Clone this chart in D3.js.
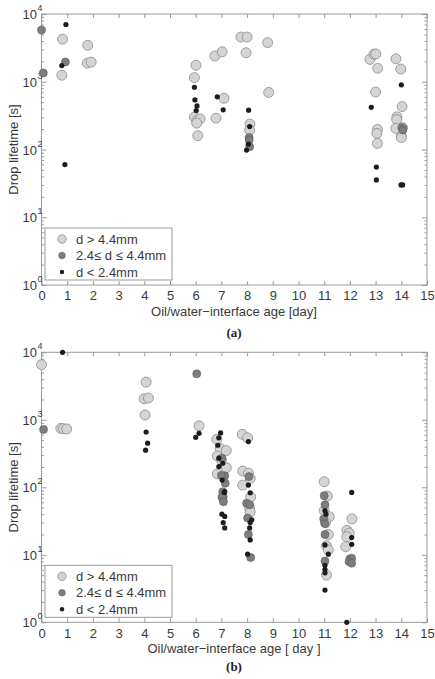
<!DOCTYPE html>
<html>
<head>
<meta charset="utf-8">
<script src="https://cdn.jsdelivr.net/npm/d3@7"></script>
<style>
  html, body { margin: 0; padding: 0; background: #fff; }
  svg { display: block; font-family: "Liberation Sans", Arial, sans-serif; }
</style>
</head>
<body>
<svg id="chart" width="435" height="679"></svg>
<script>
// ---------- DATA ----------
const xTicks = d3.range(0, 16);           // 0 .. 15 days
const yDecades = [1, 10, 100, 1000, 10000];
const seriesNames = ["d > 4.4mm", "2.4\u2264 d \u2264 4.4mm", "d < 2.4mm"];

// Panel (a): [day, lifetime s]
const aLarge = [
  [0.79,1250],[0.82,4250],[1.80,3450],[1.78,1880],[1.93,1950],
  [6.01,1750],[5.95,1150],[5.95,300],[6.05,265],[6.17,283],[6.04,245],[6.08,160],
  [6.79,290],[6.75,2400],[7.03,2770],[7.10,570],
  [7.76,4570],[8.00,4570],[7.96,2680],[8.80,3780],[8.84,695],
  [8.11,238],[8.10,194],
  [12.78,2140],[12.94,2550],[13.01,2570],[13.08,1580],[13.00,705],
  [13.07,198],[13.05,173],[13.07,123],
  [13.79,2180],[13.98,1540],[14.03,430],[13.83,303],[13.82,277],[13.79,205],
  [14.05,210],[14.00,158],[14.00,150]
];
const aMedium = [
  [0.00,5800],[0.07,1350],[0.93,1960],
  [8.08,150],[8.08,138],[8.10,110],
  [14.04,210],[14.06,194]
];
const aSmall = [
  [0.95,7000],[0.79,1730],[0.91,60],
  [5.95,830],[5.97,540],[6.05,440],[6.02,375],
  [6.84,600],[7.07,385],
  [8.06,380],[8.10,218],[8.05,120],[7.98,98],
  [12.83,420],[13.03,55],[13.03,35.6],
  [14.00,900],[13.99,30],[14.05,30]
];

// Panel (b): [day, lifetime s]
const bLarge = [
  [0.00,6560],[0.75,745],[0.85,740],[0.98,730],
  [4.07,3620],[3.99,2050],[4.16,2100],[4.03,1180],
  [6.13,815],
  [6.82,515],[6.95,377],[7.19,350],[6.84,290],[7.00,253],[7.19,195],[6.84,158],
  [7.81,610],[8.02,540],[7.83,174],[8.05,162],[8.12,135],[7.83,108],[8.14,72],
  [8.10,49],[8.12,43],
  [11.00,121],[11.12,74],[11.00,45],[11.20,36.6],[11.05,30],[11.16,20],
  [11.09,13.6],[11.16,11.8],[11.09,5.0],
  [12.08,34],[11.88,23],[11.97,21],[11.88,18.5],[11.84,13.2]
];
const bMedium = [
  [0.08,720],[6.04,4800],
  [7.02,270],[7.13,148],[7.00,150],[7.15,115],[7.07,72],
  [7.05,86],[7.02,71],[7.08,61],
  [8.07,144],[7.98,58],[8.10,55],[8.02,35],[8.05,20],[8.14,9.1],
  [11.00,75],[11.03,55],[10.98,34],[11.03,29],[11.03,20],[11.03,8.1],
  [12.00,8.7],[12.07,8.9],[11.97,7.9],[12.07,7.5]
];
const bSmall = [
  [0.82,10000],
  [4.07,660],[4.13,450],[4.05,355],
  [6.00,550],[6.13,630],
  [6.97,640],[6.90,540],[6.86,420],[6.90,270],[7.05,227],[6.90,203],[7.03,128],[7.11,84],
  [7.02,40],[7.13,37],[7.07,30],[7.13,25],[7.13,86],
  [8.05,475],[8.05,108],[8.12,83],[8.18,33],[8.12,30],[8.10,25],[8.12,16.6],[8.02,10.2],
  [11.03,45],[11.07,40],[11.03,14],[11.16,10.2],[11.03,7.0],[11.03,6.1],[11.03,5.4],[11.03,3.0],
  [12.07,84],[12.07,18],[12.07,14.3],[11.88,1.0]
];

// ---------- DRAW ----------
const svg = d3.select("#chart");
const left = 41.5, right = 427;
const axisColor = "#9a9a9a", textColor = "#3a3a3a";

const styles = [
  { r: 5.0, fill: "#d4d4d4", stroke: "#8c8c8c", sw: 0.8 },
  { r: 4.0, fill: "#7d7d7d", stroke: "#5a5a5a", sw: 0.6 },
  { r: 2.6, fill: "#1c1c1c", stroke: "none", sw: 0 }
];

function drawPanel(cfg) {
  const g = svg.append("g");
  const x = d3.scaleLinear().domain([0, 15]).range([left, right]);
  const y = d3.scaleLog().domain([1, 10000]).range([cfg.bottom, cfg.top]);

  const minor = [];
  for (let e = 0; e < 4; e++) for (let k = 2; k <= 9; k++) minor.push(k * Math.pow(10, e));

  g.append("rect").attr("x", left).attr("y", cfg.top)
    .attr("width", right - left).attr("height", cfg.bottom - cfg.top)
    .attr("fill", "none").attr("stroke", axisColor).attr("stroke-width", 1);

  const bx = g.append("g").attr("transform", `translate(0,${cfg.bottom})`)
    .call(d3.axisBottom(x).tickValues(xTicks).tickSize(-4).tickPadding(6).tickFormat(d3.format("d")));
  bx.select(".domain").remove();
  bx.selectAll("line").attr("stroke", axisColor);
  bx.selectAll("text").attr("fill", textColor).attr("font-size", 13)
    .attr("font-family", "Liberation Sans, Arial, sans-serif");

  const tx = g.append("g").attr("transform", `translate(0,${cfg.top})`)
    .call(d3.axisTop(x).tickValues(xTicks).tickSize(-4).tickFormat(""));
  tx.select(".domain").remove();
  tx.selectAll("line").attr("stroke", axisColor);

  const ly = g.append("g").attr("transform", `translate(${left},0)`)
    .call(d3.axisLeft(y).tickValues(yDecades).tickSize(-5).tickFormat(""));
  ly.select(".domain").remove();
  ly.selectAll("line").attr("stroke", axisColor);
  const lym = g.append("g").attr("transform", `translate(${left},0)`)
    .call(d3.axisLeft(y).tickValues(minor).tickSize(-2.5).tickFormat(""));
  lym.select(".domain").remove();
  lym.selectAll("line").attr("stroke", axisColor);

  const ry = g.append("g").attr("transform", `translate(${right},0)`)
    .call(d3.axisRight(y).tickValues(yDecades).tickSize(-5).tickFormat(""));
  ry.select(".domain").remove();
  ry.selectAll("line").attr("stroke", axisColor);
  const rym = g.append("g").attr("transform", `translate(${right},0)`)
    .call(d3.axisRight(y).tickValues(minor).tickSize(-2.5).tickFormat(""));
  rym.select(".domain").remove();
  rym.selectAll("line").attr("stroke", axisColor);

  yDecades.forEach(v => {
    g.append("text").attr("x", 37).attr("y", y(v) + 5)
      .attr("text-anchor", "end").attr("fill", textColor).attr("font-size", 13).text("10");
    g.append("text").attr("x", 37.5).attr("y", y(v) - 3)
      .attr("fill", textColor).attr("font-size", 9).text(String(Math.round(Math.log10(v))));
  });

  const cy = (cfg.top + cfg.bottom) / 2;
  g.append("text").attr("transform", `translate(13,${cy}) rotate(-90)`)
    .attr("text-anchor", "middle").attr("dy", "0.35em")
    .attr("fill", textColor).attr("font-size", 13).text("Drop lifetime [s]");

  g.append("text").attr("x", 234).attr("y", cfg.bottom + 31)
    .attr("text-anchor", "middle").attr("fill", textColor).attr("font-size", 13)
    .text(cfg.xlabel);

  g.append("text").attr("x", 234).attr("y", cfg.tagY)
    .attr("text-anchor", "middle").attr("fill", "#222").attr("font-size", 13)
    .attr("font-weight", "bold").attr("font-family", "Liberation Serif, Times New Roman, serif")
    .text(cfg.tag);

  const plot = g.append("g");
  cfg.series.forEach((data, i) => {
    const s = styles[i];
    plot.append("g").selectAll("circle").data(data).join("circle")
      .attr("cx", d => x(d[0])).attr("cy", d => y(d[1])).attr("r", s.r)
      .attr("fill", s.fill).attr("stroke", s.stroke).attr("stroke-width", s.sw);
  });

  const lg = g.append("g").attr("transform", `translate(45,${cfg.bottom - 57})`);
  lg.append("rect").attr("x", 0).attr("y", 0).attr("width", 127).attr("height", 52)
    .attr("fill", "#fff").attr("stroke", axisColor).attr("stroke-width", 1);
  seriesNames.forEach((name, i) => {
    const s = styles[i];
    const yy = 11 + i * 16.5;
    lg.append("circle").attr("cx", 17).attr("cy", yy).attr("r", i === 0 ? 4.2 : (i === 1 ? 3.3 : 2.2))
      .attr("fill", s.fill).attr("stroke", s.stroke).attr("stroke-width", s.sw);
    lg.append("text").attr("x", 31).attr("y", yy + 4.5).attr("fill", textColor)
      .attr("font-size", 13).text(name);
  });
}

drawPanel({ top: 14, bottom: 285, xlabel: "Oil/water\u2212interface age [day]", tag: "(a)", tagY: 337,
  series: [aLarge, aMedium, aSmall] });
drawPanel({ top: 352.3, bottom: 622.3, xlabel: "Oil/water\u2212interface age [ day ]", tag: "(b)", tagY: 671,
  series: [bLarge, bMedium, bSmall] });
</script>
</body>
</html>
